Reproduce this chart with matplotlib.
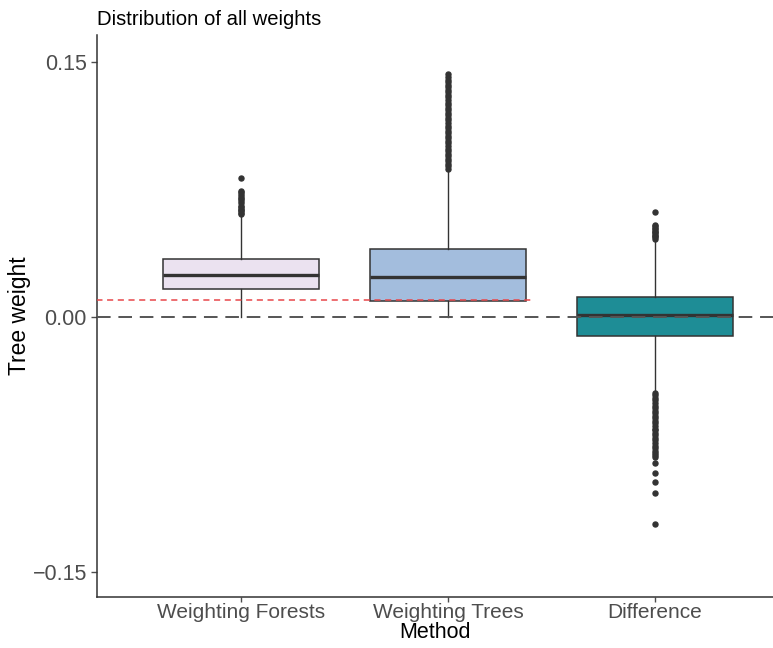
import matplotlib
matplotlib.use("Agg")
import matplotlib.pyplot as plt
import numpy as np

plt.rcParams['font.family'] = ['Liberation Sans', 'DejaVu Sans']

categories = ["Weighting Forests", "Weighting Trees", "Difference"]
fills = ["#EBE2F0", "#A3BDDD", "#1E8D96"]

q1 = [0.0166, 0.0092, -0.0110]
median = [0.0249, 0.0235, 0.0010]
q3 = [0.0341, 0.0400, 0.0119]
whisker_low = [0.0000, 0.0000, -0.0440]
whisker_high = [0.0600, 0.0860, 0.0450]

outliers_forests = [0.0605, 0.0612, 0.0620, 0.0628, 0.0636, 0.0645, 0.0655,
                    0.0668, 0.0680, 0.0692, 0.0700, 0.0710, 0.0720, 0.0732,
                    0.0740, 0.0816]
outliers_trees = [0.0870, 0.0885, 0.0900, 0.0915, 0.0930, 0.0945, 0.0960,
                  0.0975, 0.0990, 0.1005, 0.1020, 0.1035, 0.1050, 0.1065,
                  0.1080, 0.1095, 0.1110, 0.1125, 0.1140, 0.1155, 0.1170,
                  0.1185, 0.1200, 0.1215, 0.1230, 0.1245, 0.1260, 0.1275,
                  0.1290, 0.1305, 0.1320, 0.1335, 0.1350, 0.1365, 0.1380,
                  0.1395, 0.1410, 0.1425]
outliers_difference = [0.0619, 0.0540, 0.0532, 0.0524, 0.0516, 0.0508,
                       0.0500, 0.0492, 0.0484, 0.0476, 0.0468, 0.0460,
                       -0.0447, -0.0460, -0.0475, -0.0490, -0.0505, -0.0520,
                       -0.0535, -0.0550, -0.0565, -0.0580, -0.0595, -0.0610,
                       -0.0625, -0.0640, -0.0655, -0.0664, -0.0680, -0.0695,
                       -0.0710, -0.0725, -0.0740, -0.0755, -0.0770, -0.0785,
                       -0.0800, -0.0812, -0.0821, -0.0860, -0.0915, -0.0967,
                       -0.1032, -0.1218]
outliers = [outliers_forests, outliers_trees, outliers_difference]

red_ref = 0.01
red_end = 2.4

fig = plt.figure(figsize=(7.73, 6.48), dpi=100)
ax = fig.add_axes([0.1251, 0.0792, 0.8749, 0.8668])

stats = []
for i in range(3):
    stats.append(dict(med=median[i], q1=q1[i], q3=q3[i],
                      whislo=whisker_low[i], whishi=whisker_high[i],
                      fliers=outliers[i]))

positions = [1, 2, 3]
bp = ax.bxp(stats, positions=positions, widths=0.75, patch_artist=True,
            showcaps=False,
            boxprops=dict(edgecolor="#333333", linewidth=1.1),
            medianprops=dict(color="#333333", linewidth=2.4),
            whiskerprops=dict(color="#333333", linewidth=1.0),
            flierprops=dict(marker="o", markersize=3.6, markerfacecolor="#333333",
                            markeredgecolor="#333333", linestyle="none"))
for patch, c in zip(bp["boxes"], fills):
    patch.set_facecolor(c)
    patch.set_zorder(2)

ax.plot([0.2, red_end], [red_ref, red_ref], color="#E8474A", lw=1.1,
        ls=(0, (4, 3)), zorder=5)
ax.axhline(0, color="#555555", lw=1.4, ls=(0, (7, 4)), zorder=6)

ax.set_xlim(0.303, 3.57)
ax.set_ylim(-0.1643, 0.1657)
ax.set_yticks([-0.15, 0.0, 0.15])
ax.set_yticklabels(["\u22120.15", "0.00", "0.15"])
ax.set_xticks(positions)
ax.set_xticklabels(categories)
ax.tick_params(axis="y", labelsize=15.5, colors="#4D4D4D", length=4,
               width=1, labelcolor="#4D4D4D", pad=3)
ax.tick_params(axis="x", labelsize=15, colors="#4D4D4D", length=3.5,
               width=1, labelcolor="#4D4D4D", pad=1)

for side in ["top", "right"]:
    ax.spines[side].set_visible(False)
for side in ["left", "bottom"]:
    ax.spines[side].set_color("#333333")
    ax.spines[side].set_linewidth(1.1)

ax.set_xlabel("Method", fontsize=15.5, color="black", labelpad=0)
ax.set_ylabel("Tree weight", fontsize=16.5, color="black", labelpad=1)
ax.set_title("Distribution of all weights", fontsize=14.6, loc="left",
             color="black", pad=7)

fig.savefig("out.png", dpi=100)
